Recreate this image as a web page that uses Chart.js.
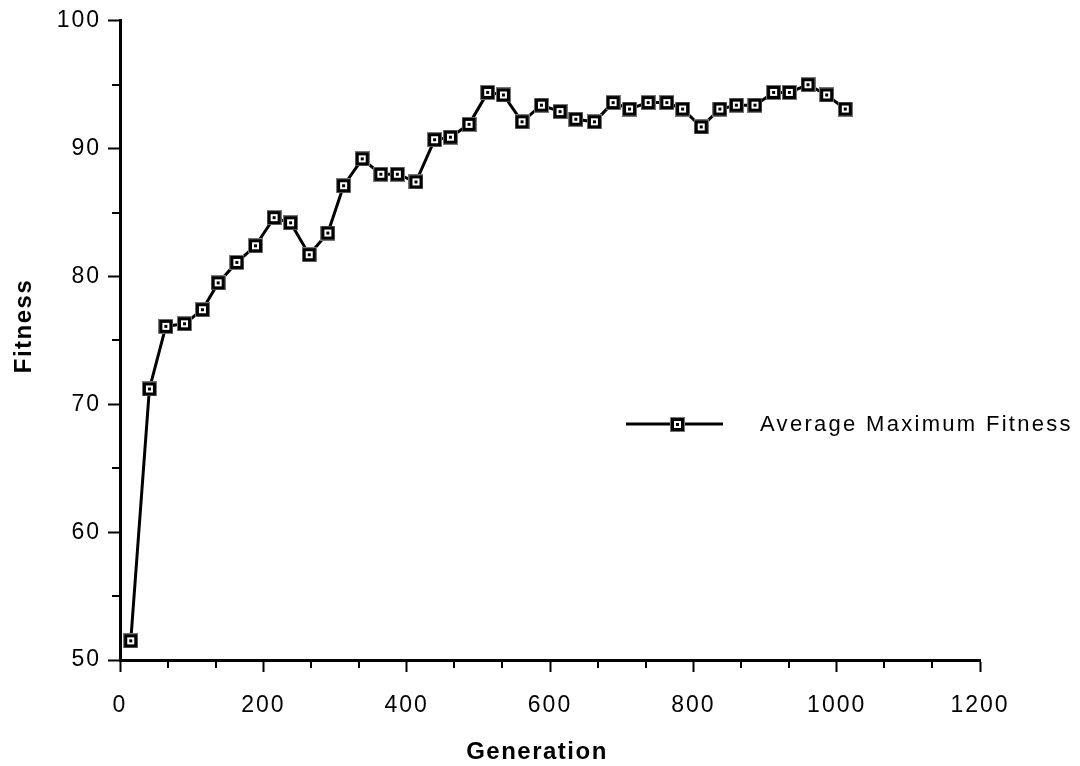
<!DOCTYPE html>
<html>
<head>
<meta charset="utf-8">
<script src="https://cdn.jsdelivr.net/npm/chart.js@4"></script>
<style>
  html, body { margin: 0; padding: 0; background: #fff; }
  #wrap { width: 1080px; height: 766px; }
</style>
</head>
<body>
<div id="wrap"><canvas id="fitnessChart" width="1080" height="766"></canvas></div>
<script>
// Data
var generations = [15, 41, 64, 90, 115, 137, 163, 189, 215, 238, 264, 290, 312, 338, 364, 387, 413, 439, 461, 487,
  513, 535, 561, 588, 614, 636, 662, 688, 711, 737, 763, 785, 811, 837, 860, 886, 912, 934, 960, 986, 1012];
var fitness = [51.5, 71.2, 76.1, 76.3, 77.4, 79.5, 81.1, 82.4, 84.6, 84.2, 81.7, 83.4, 87.1, 89.2, 88.0, 88.0, 87.4, 90.7, 90.9, 91.9,
  94.4, 94.2, 92.1, 93.4, 92.9, 92.3, 92.1, 93.6, 93.1, 93.6, 93.6, 93.1, 91.7, 93.1, 93.4, 93.4, 94.4, 94.4, 95.0, 94.2, 93.1];
var xTicks = [0, 200, 400, 600, 800, 1000, 1200];
var yTicks = [50, 60, 70, 80, 90, 100];
var seriesLabel = 'Average Maximum Fitness';
var xTitle = 'Generation';
var yTitle = 'Fitness';

var FONT = '"Liberation Sans", Arial, Helvetica, sans-serif';

// Square marker: thick black frame, white inside, dot in the middle
function makeMarker() {
  var c = document.createElement('canvas');
  c.width = 15; c.height = 15;
  var g = c.getContext('2d');
  g.fillStyle = '#777';
  g.fillRect(0, 0, 15, 15);
  g.fillStyle = '#000';
  g.fillRect(1, 1, 13, 13);
  g.fillStyle = '#fff';
  g.fillRect(4, 4, 7, 7);
  g.fillStyle = '#000';
  g.fillRect(6, 6, 3, 3);
  return c;
}
var marker = makeMarker();

// letter spacing for the text Chart.js draws
var spacingPlugin = {
  id: 'spacing',
  beforeUpdate: function(chart) { chart.ctx.letterSpacing = '2px'; },
  beforeDraw: function(chart) { chart.ctx.letterSpacing = '2px'; }
};

// short minor ticks + axis titles
var extras = {
  id: 'extras',
  afterDraw: function(chart) {
    var ctx = chart.ctx;
    var xs = chart.scales.x, ys = chart.scales.y;
    ctx.save();
    ctx.strokeStyle = '#000';
    ctx.lineWidth = 2;
    ctx.beginPath();
    for (var i = 0; i < xTicks.length - 1; i++) {
      for (var k = 1; k < 3; k++) {
        var v = xTicks[i] + (xTicks[i + 1] - xTicks[i]) * k / 3;
        var px = Math.round(xs.getPixelForValue(v));
        ctx.moveTo(px, xs.top);
        ctx.lineTo(px, xs.top + 8);
      }
    }
    for (var j = 0; j < yTicks.length - 1; j++) {
      var py = Math.round(ys.getPixelForValue((yTicks[j] + yTicks[j + 1]) / 2));
      ctx.moveTo(ys.right, py);
      ctx.lineTo(ys.right - 8, py);
    }
    ctx.stroke();

    ctx.letterSpacing = '1.5px';
    ctx.fillStyle = '#000';
    ctx.font = 'bold 24px ' + FONT;
    ctx.textAlign = 'center';
    ctx.textBaseline = 'middle';
    ctx.fillText(xTitle, 537, 752);

    ctx.translate(24, 326);
    ctx.rotate(-Math.PI / 2);
    ctx.fillText(yTitle, 0, 0);
    ctx.restore();
  }
};

// legend drawn inside the plot
var innerLegend = {
  id: 'innerLegend',
  afterDatasetsDraw: function(chart) {
    var ctx = chart.ctx;
    var y = 424;
    ctx.save();
    ctx.strokeStyle = '#000';
    ctx.lineWidth = 3;
    ctx.beginPath();
    ctx.moveTo(626, y);
    ctx.lineTo(723, y);
    ctx.stroke();
    ctx.drawImage(marker, 670, y - 7);
    ctx.letterSpacing = '2.3px';
    ctx.fillStyle = '#000';
    ctx.font = '22px ' + FONT;
    ctx.textBaseline = 'middle';
    ctx.textAlign = 'left';
    ctx.fillText(seriesLabel, 760, y + 1);
    ctx.restore();
  }
};

var ctx = document.getElementById('fitnessChart').getContext('2d');
new Chart(ctx, {
  type: 'line',
  data: {
    datasets: [{
      label: seriesLabel,
      data: generations.map(function(g, i) { return { x: g, y: fitness[i] }; }),
      borderColor: '#000',
      borderWidth: 3,
      backgroundColor: '#fff',
      pointStyle: marker,
      pointRadius: 7,
      tension: 0
    }]
  },
  options: {
    responsive: false,
    animation: false,
    layout: { padding: { top: 16, right: 100, left: 0, bottom: 0 } },
    plugins: { legend: { display: false }, tooltip: { enabled: false } },
    scales: {
      x: {
        type: 'linear',
        min: 0, max: 1200,
        afterBuildTicks: function(s) { s.ticks = xTicks.map(function(v) { return { value: v }; }); },
        afterFit: function(s) { s.height = 106; },
        border: { color: '#000', width: 3 },
        grid: { drawOnChartArea: false, drawTicks: true, tickLength: 12, tickWidth: 2, tickColor: '#000', color: '#000' },
        ticks: { color: '#000', font: { family: FONT, size: 23 }, padding: 20, maxRotation: 0,
          callback: function(v) { return String(v); } },
        title: { display: false }
      },
      y: {
        type: 'linear',
        min: 50, max: 100,
        afterBuildTicks: function(s) { s.ticks = yTicks.map(function(v) { return { value: v }; }); },
        afterFit: function(s) { s.width = 120; },
        border: { color: '#000', width: 3 },
        grid: { drawOnChartArea: false, drawTicks: true, tickLength: 12, tickWidth: 2, tickColor: '#000', color: '#000' },
        ticks: { color: '#000', font: { family: FONT, size: 23 }, padding: 7,
          callback: function(v) { return String(v); } },
        title: { display: false }
      }
    }
  },
  plugins: [spacingPlugin, extras, innerLegend]
});
</script>
</body>
</html>
